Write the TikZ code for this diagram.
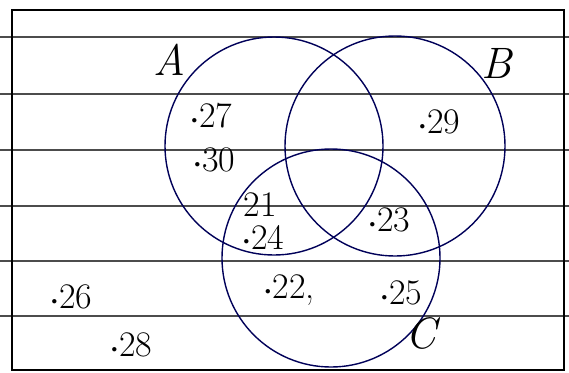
\documentclass[tikz,border=0pt]{standalone}
\usepackage{fontspec}
\newcommand{\hdot}{\raisebox{0.28ex}{\scalebox{0.45}{$\bullet$}}\hspace{0.06em}}
\begin{document}
\begin{tikzpicture}[x=1pt,y=-1pt,
  rule/.style={draw=black!70,line width=1.1pt},
  venn/.style={draw=blue!35!black,line width=1.4pt},
  num/.style={inner sep=0pt,font=\fontsize{36}{36}\selectfont},
  setlbl/.style={inner sep=0pt,font=\fontsize{44}{44}\selectfont\itshape}]
\useasboundingbox (0,0) rectangle (569,372);
\fill[white] (0,0) rectangle (569,372);
% ruled lines
\foreach \y in {37,94,150,206,261,316} \draw[rule] (0,\y) -- (569,\y);
% frame
\draw[line width=2pt] (12,10) rectangle (564,370);
% circles
\node[venn,circle,minimum size=218pt,inner sep=0pt] (cA) at (274,146) {};
\node[venn,circle,minimum size=220pt,inner sep=0pt] (cB) at (395,146) {};
\node[venn,circle,minimum size=218pt,inner sep=0pt] (cC) at (331,258) {};
% set labels
\node[setlbl] (lA) at (169,60) {A};
\node[setlbl] (lB) at (497,63) {B};
\node[setlbl] (lC) at (421,333) {C};
% elements
\node[num] (n27) at (212,116) {\hdot 27};
\node[num] (n30) at (215,160) {\hdot 30};
\node[num] (n29) at (440,122) {\hdot 29};
\node[num] (n21) at (260,205) {21};
\node[num] (n24) at (264,237) {\hdot 24};
\node[num] (n23) at (390,220) {\hdot 23};
\node[num] (n22) at (290,290) {\hdot 22,};
\node[num] (n25) at (402,293) {\hdot 25};
\node[num] (n26) at (72,297) {\hdot 26};
\node[num] (n28) at (132,345) {\hdot 28};
\end{tikzpicture}
\end{document}
